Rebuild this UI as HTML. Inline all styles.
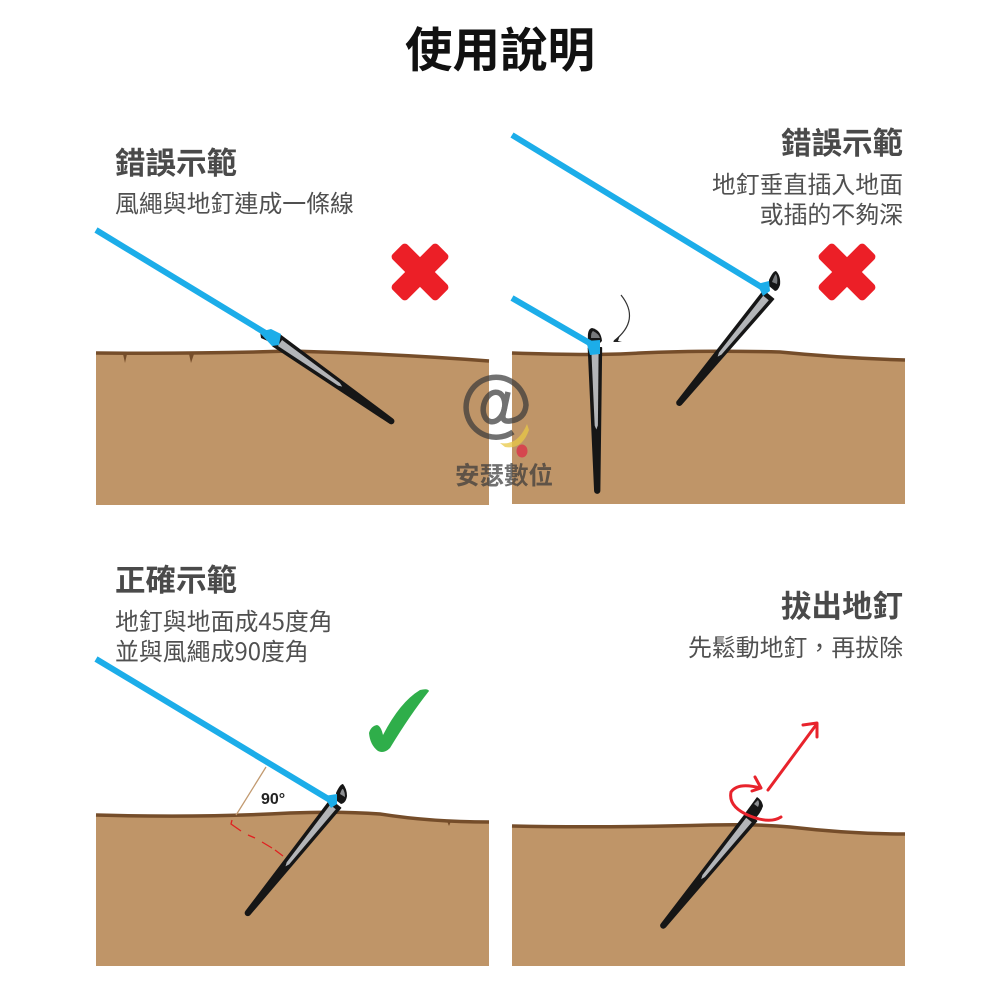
<!DOCTYPE html>
<html><head><meta charset="utf-8"><style>
html,body{margin:0;padding:0;background:#fff}
svg{display:block}
text{font-family:"Noto Sans CJK TC","Liberation Sans",sans-serif}
.h{font-size:30.5px;font-weight:700;fill:#4a4a4a}
.b{font-size:23.9px;fill:#505050;font-weight:400}
.g{fill:#bf9568}
.e{fill:none;stroke:#754d2a;stroke-width:3.5}
.r{fill:none;stroke:#1cade9;stroke-width:6}
</style></head><body>
<svg width="1000" height="1000" viewBox="0 0 1000 1000" xmlns="http://www.w3.org/2000/svg">
<defs>
<g id="peg">
<path d="M-4,-6.5 L136,-2.2 A2.4,2.4 0 0 1 136,2.6 L-4,6.5Z" fill="#161616" stroke="#161616" stroke-width="1.5" stroke-linejoin="round"/>
<path d="M0,-3.6 L72,-1.6 L76,0 L72,1.6 L0,3.6Z" fill="#b3b5b8"/>
</g>
<rect id="xa" x="-32" y="-10.5" width="64" height="21" rx="4" fill="#ec1f27"/>
</defs>

<text x="500" y="67" text-anchor="middle" style="font-size:47.5px;font-weight:700;fill:#111">使用說明</text>

<!-- panel 1 -->
<path class="g" d="M96,353 Q200,354 290,351 Q400,354 489,361 V505 H96Z"/>
<path class="e" d="M96,353 Q200,354 290,351 Q400,354 489,361"/>
<path d="M123,354 l2,9 l2,-9ZM189,354 l2,9 l3,-9Z" fill="#754d2a"/>
<use href="#peg" transform="translate(280,343) rotate(35)"/>
<path d="M260,331 L274,337 L272,343 L261,338Z" fill="#161616"/>
<line class="r" x1="96" y1="230" x2="272" y2="337"/>
<path d="M259,332 L271,329 L281,334 L279,345 L272,346Z" fill="#1cade9"/>
<text class="h" x="115" y="174">錯誤示範</text>
<text class="b" x="115" y="212">風繩與地釘連成一條線</text>

<!-- panel 2 -->
<path class="g" d="M512,353 Q600,356 640,353 Q700,350 780,352 Q840,358 905,360 V504 H512Z"/>
<path class="e" d="M512,353 Q600,356 640,353 Q700,350 780,352 Q840,358 905,360"/>
<use href="#peg" transform="translate(595,352) rotate(89) scale(1.02,1)"/>
<path d="M588,340 Q587,329 592,328 Q601,330 602,341 L600,343 L590,342Z" fill="#161616"/>
<path d="M591,338 Q591,332 593,331 Q599,334 600,338 Z" fill="#77797c"/>
<line class="r" x1="512" y1="298" x2="593" y2="345"/>
<path d="M586,341 L600,340 L600,354 L590,355Z" fill="#1cade9"/>
<path d="M621,295 Q641,320 614,341" fill="none" stroke="#333" stroke-width="1.2"/>
<path d="M613,342 L620,335 L618,341 L622,342Z" fill="#222"/>

<use href="#peg" transform="translate(766,298) rotate(129.5)"/>
<path d="M769,280 Q773,271 776,271 Q781,276 780,285 Q778,291 775,291 L769,286Z" fill="#161616"/>
<path d="M772,282 Q775,274 776,274 Q778,278 777,284Z" fill="#77797c"/>
<line class="r" x1="512" y1="135" x2="763" y2="288"/>
<path d="M757,284 L769,281 L770,291 L763,296Z" fill="#1cade9"/>
<text class="h" x="903" y="154" text-anchor="end">錯誤示範</text>
<text class="b" x="903" y="193" text-anchor="end">地釘垂直插入地面</text>
<text class="b" x="903" y="223" text-anchor="end">或插的不夠深</text>

<!-- red X marks -->
<use href="#xa" transform="translate(420,272) rotate(45)"/>
<use href="#xa" transform="translate(420,272) rotate(-45)"/>
<use href="#xa" transform="translate(847,272) rotate(45)"/>
<use href="#xa" transform="translate(847,272) rotate(-45)"/>

<!-- panel 3 -->
<path class="g" d="M96,815 Q200,818 290,813 Q340,811 380,814 Q430,822 489,822 V966 H96Z"/>
<path class="e" d="M96,815 Q200,818 290,813 Q340,811 380,814 Q430,822 489,822"/>
<path d="M447,821 l2,5 l2,-5Z" fill="#754d2a"/>
<use href="#peg" transform="translate(333,807) rotate(128.7)"/>
<path d="M336,793 Q340,784 343,784 Q347,789 347,796 Q346,803 341,804 L337,801Z" fill="#161616"/>
<path d="M340,794 Q342,788 343,789 Q345,792 345,797Z" fill="#8d8f92"/>
<line class="r" x1="96" y1="659" x2="330" y2="800"/>
<path d="M324,796 L337,794 L337,804 L331,808Z" fill="#1cade9"/>
<path d="M266,767 L238,812 L236,815" fill="none" stroke="#c29a70" stroke-width="1.3"/>
<path d="M232,820 L231,824 L241,831 M248,835 L255,838 M262,842 L272,848 M275,850 L283,856" fill="none" stroke="#e02020" stroke-width="1.3"/>
<text x="261" y="804" style="font-size:16px;font-weight:700;fill:#222;font-family:'Liberation Sans',sans-serif">90°</text>
<path d="M369,733 Q371,726 377,725 Q381,726 383,735 Q400,702 420,690 Q428,688 429,691 Q410,715 390,748 Q384,754 378,751 Q370,745 369,733Z" fill="#2fae4a"/>
<text class="h" x="115" y="591">正確示範</text>
<text class="b" x="115" y="630">地釘與地面成45度角</text>
<text class="b" x="115" y="660">並與風繩成90度角</text>

<!-- panel 4 -->
<path class="g" d="M512,826 Q600,828 710,825 Q760,824 790,827 Q850,834 905,834 V966 H512Z"/>
<path class="e" d="M512,826 Q600,828 710,825 Q760,824 790,827 Q850,834 905,834"/>
<use href="#peg" transform="translate(749,820) rotate(129)"/>
<path d="M746,812 L757,797 Q762,800 763,806 Q761,813 753,821Z" fill="#161616"/>
<path d="M754,804 L758,800 Q760,803 758,807Z" fill="#8d8f92"/>
<path d="M760,788 Q738,782 731,792 Q728,807 750,816 Q770,824 781,817" fill="none" stroke="#e8232c" stroke-width="3" stroke-linecap="round"/>
<path d="M755,777 L761,788 L752,791" fill="none" stroke="#e8232c" stroke-width="3" stroke-linecap="round" stroke-linejoin="round"/>
<path d="M768,790 L816,725" fill="none" stroke="#e8232c" stroke-width="3" stroke-linecap="round"/>
<path d="M803,725 L817,723 L817,737" fill="none" stroke="#e8232c" stroke-width="3" stroke-linecap="round" stroke-linejoin="round"/>
<text class="h" x="903" y="617" text-anchor="end">拔出地釘</text>
<text class="b" x="903" y="656" text-anchor="end">先鬆動地釘，再拔除</text>

<!-- watermark -->
<path d="M500,443 Q518,446 527,424 L529,430 Q522,450 505,447Z" fill="#e8c845" opacity=".75"/>
<ellipse cx="522" cy="451" rx="5.5" ry="6.5" fill="#d8394a" opacity=".85"/>
<g opacity="0.72" fill="none" stroke="#3b3b3b">
<path d="M508,392 L503,415 Q502,422 510,421 Q525,419 526,405 A30,30 0 1 0 513,432" stroke-width="5.5"/>
<ellipse cx="494" cy="407" rx="10.5" ry="15" transform="rotate(14 494 407)" stroke-width="5.5"/>
</g>
<text x="504" y="484" text-anchor="middle" opacity="0.72" style="font-size:24.5px;font-weight:700;fill:#3b3b3b">安瑟數位</text>
</svg>
</body></html>
